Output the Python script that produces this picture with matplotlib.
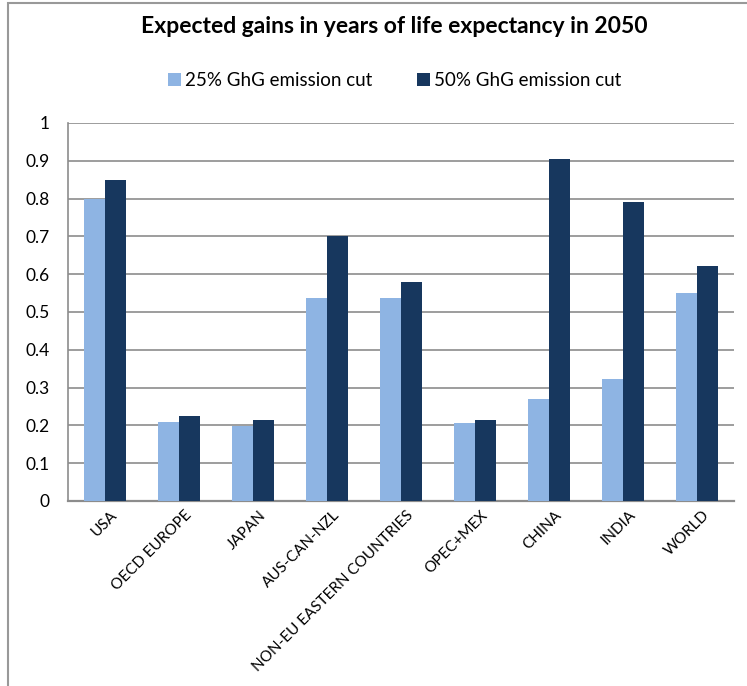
import matplotlib
matplotlib.use('Agg')
import matplotlib.pyplot as plt
import matplotlib.transforms as mtransforms
import numpy as np

regions = ['USA', 'OECD EUROPE', 'JAPAN', 'AUS-CAN-NZL', 'NON-EU EASTERN COUNTRIES',
           'OPEC+MEX', 'CHINA', 'INDIA', 'WORLD']
cut_25 = [0.80, 0.208, 0.198, 0.536, 0.536, 0.206, 0.270, 0.324, 0.550]
cut_50 = [0.848, 0.226, 0.213, 0.702, 0.579, 0.214, 0.905, 0.792, 0.621]
yticks = [0, 0.1, 0.2, 0.3, 0.4, 0.5, 0.6, 0.7, 0.8, 0.9, 1]
ytick_labels = ['0', '0.1', '0.2', '0.3', '0.4', '0.5', '0.6', '0.7', '0.8', '0.9', '1']

light = '#8EB4E3'
dark = '#17375E'
grid_grey = '#8C8C8C'

plt.rcParams['font.family'] = ['Lato', 'DejaVu Sans']

fig = plt.figure(figsize=(7.47, 6.86), dpi=100)
ax = fig.add_axes([0.091, 0.2697, 0.8916, 0.551])

x = np.arange(len(regions))
w = 0.28
ax.bar(x - w / 2, cut_25, w, color=light, label='25% GhG emission cut', zorder=3)
ax.bar(x + w / 2, cut_50, w, color=dark, label='50% GhG emission cut', zorder=3)

ax.set_xlim(-0.5, len(regions) - 0.5)
ax.set_ylim(0, 1)
ax.set_yticks(yticks)
ax.set_yticklabels(ytick_labels, fontsize=12.5)
ax.yaxis.grid(True, color=grid_grey, linewidth=1.2, zorder=0)
ax.set_axisbelow(True)
ax.tick_params(axis='y', length=0, pad=13)
ax.tick_params(axis='x', length=0, pad=5)

ax.set_xticks(x)
ax.set_xticklabels(regions, rotation=45, ha='right', rotation_mode='anchor', fontsize=11)
# nudge the rotated labels so their ends sit just right of each category
shift = mtransforms.ScaledTranslation(4 / 72, 0, fig.dpi_scale_trans)
for lbl in ax.get_xticklabels():
    lbl.set_transform(lbl.get_transform() + shift)

for side in ['top', 'right']:
    ax.spines[side].set_visible(False)
ax.spines['left'].set_color(grid_grey)
ax.spines['left'].set_linewidth(1.2)
ax.spines['bottom'].set_color(grid_grey)
ax.spines['bottom'].set_linewidth(1.6)

fig.text(0.528, 0.962, 'Expected gains in years of life expectancy in 2050',
         ha='center', va='center', fontsize=16.5, fontweight='bold')

fig.legend(loc='center', bbox_to_anchor=(0.528, 0.882), ncol=2, frameon=False,
           fontsize=13.5, handlelength=0.7, handleheight=0.7, handletextpad=0.2,
           columnspacing=2.4)

# outer chart border
border = plt.Rectangle((0.011, -0.05), 1.1, 1.045, transform=fig.transFigure,
                       fill=False, edgecolor='#999999', linewidth=1.5)
fig.patches.append(border)

fig.savefig('out.png', dpi=100)
